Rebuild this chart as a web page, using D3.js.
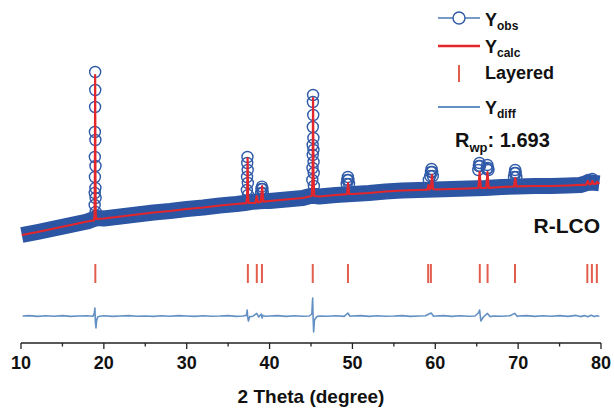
<!DOCTYPE html>
<html>
<head>
<meta charset="utf-8">
<script src="https://cdn.jsdelivr.net/npm/d3@7"></script>
<style>
  html, body { margin: 0; padding: 0; background: #fff; }
  svg { display: block; font-family: "Liberation Sans", Arial, sans-serif; font-weight: bold; }
</style>
</head>
<body>
<svg id="chart" width="614" height="412"></svg>
<script>
// ---------- DATA ----------
// Observed background band (centre of the dense Yobs band), 2θ / intensity
const bandX = [10.1, 12, 14, 16, 18, 18.8, 19.2, 20, 22, 24, 26, 28, 30, 32, 34, 36, 37.0, 37.7, 38.8, 39.4, 40, 42, 44, 44.9, 45.6, 46, 48, 50, 52, 54, 56, 58, 60, 62, 64, 66, 68, 70, 72, 74, 76, 77.5, 78.3, 79, 79.8];
const bandY = [1300, 1450, 1625, 1800, 1975, 2100, 2150, 2125, 2225, 2325, 2425, 2500, 2600, 2675, 2775, 2850, 2900, 2950, 2990, 3000, 3000, 3075, 3150, 3250, 3250, 3225, 3300, 3350, 3400, 3475, 3525, 3550, 3575, 3600, 3625, 3650, 3700, 3725, 3750, 3750, 3775, 3800, 3900, 3920, 3880];

// Observed points on the Bragg peaks (hollow circles)
const obsPeakX = [18.95, 18.96, 18.94, 18.92, 18.98, 18.91, 18.99, 18.92, 18.98, 18.90, 19.00, 18.89, 19.01,
                  37.33, 37.30, 37.36, 37.28, 37.38, 37.26, 37.40,
                  39.08, 39.02, 39.14, 38.98, 39.18,
                  45.25, 45.23, 45.27, 45.22, 45.29, 45.20, 45.30, 45.21, 45.31, 45.18, 45.33, 45.16, 45.35,
                  49.45, 49.38, 49.52, 49.31, 49.59,
                  59.55, 59.48, 59.62, 59.40, 59.70, 59.22,
                  65.33, 65.26, 65.40, 65.19,
                  66.28, 66.35, 66.42, 66.21,
                  69.64, 69.57, 69.71, 69.50, 69.78,
                  78.95, 78.45];
const obsPeakY = [9450, 8550, 7700, 6450, 6050, 5200, 4750, 4200, 3650, 3400, 3150, 2800, 2450,
                  5200, 4900, 4550, 4200, 3900, 3550, 3300,
                  3720, 3600, 3600, 3400, 3400,
                  8300, 7950, 7300, 6700, 6150, 5800, 5550, 5300, 4950, 4650, 4400, 4050, 3750,
                  4200, 4050, 4050, 3850, 3850,
                  4600, 4450, 4450, 4250, 4250, 4050,
                  4900, 4750, 4750, 4550,
                  4800, 4650, 4550, 4600,
                  4550, 4400, 4400, 4200, 4200,
                  4100, 4050];

// Calculated profile (Ycalc)
const calcX = [10.1, 12, 14, 16, 18, 18.80, 18.88, 18.92, 18.95, 18.98, 19.02, 19.10, 20, 22, 24, 26, 28, 30, 32, 34, 36,
               37.20, 37.29, 37.35, 37.41, 37.50, 38.30, 38.45, 38.60, 38.95, 39.10, 39.25, 40, 42, 44,
               45.10, 45.20, 45.25, 45.30, 45.40, 46, 48, 49.35, 49.48, 49.62, 50, 52, 54, 56, 58,
               59.05, 59.18, 59.32, 59.48, 59.60, 59.72, 60, 62, 64, 65.2, 65.35, 65.5, 66.15, 66.30, 66.45, 68,
               69.5, 69.65, 69.8, 72, 74, 76, 78.2, 78.4, 78.6, 78.8, 78.95, 79.1, 79.35, 79.5, 79.8];
const calcY = [1300, 1450, 1625, 1800, 1975, 2030, 2300, 4500, 9300, 4500, 2350, 2100, 2125, 2225, 2325, 2425, 2500, 2600, 2675, 2775, 2850,
               2890, 3150, 5150, 3150, 2900, 2910, 3250, 2930, 2960, 3750, 2970, 3000, 3075, 3150,
               3250, 4300, 8150, 4300, 3250, 3225, 3300, 3340, 3900, 3350, 3350, 3400, 3475, 3525, 3550,
               3565, 3800, 3580, 3650, 4300, 3600, 3575, 3600, 3625, 3650, 4450, 3650, 3650, 4450, 3660, 3700,
               3725, 4150, 3730, 3750, 3750, 3775, 3820, 4000, 3830, 3840, 4000, 3850, 3850, 3950, 3860];

// Layered-phase reflection positions (tick marks)
const hklPos = [18.97, 37.38, 38.46, 39.08, 45.21, 49.46, 59.14, 59.47, 65.37, 66.31, 69.62, 78.35, 78.90, 79.50];
const hklTop = -150, hklBottom = -1100;

// Difference curve (Yobs - Ycalc, offset)
const diffX = [10.2, 11, 12, 13, 14, 15, 16, 17, 18, 18.7, 18.85, 18.92, 18.98, 19.05, 19.12, 19.25, 19.5, 20, 21, 22, 23, 24, 25, 26, 27, 28, 29, 30, 31, 32, 33, 34, 35, 36, 36.8,
               37.2, 37.3, 37.36, 37.45, 37.6, 38.0, 38.45, 38.7, 39.0, 39.1, 39.2, 39.5, 40, 41, 42, 43, 44, 44.8,
               45.1, 45.2, 45.26, 45.32, 45.42, 45.7, 46, 47, 48, 49, 49.45, 49.7, 50, 51, 52, 53, 54, 55, 56, 57, 58, 58.8,
               59.5, 59.8, 60, 61, 62, 63, 64, 64.8, 65.2, 65.35, 65.5, 65.8, 66.3, 66.6, 67, 68, 69, 69.6, 69.9, 70, 71, 72, 73, 74, 75, 76, 77, 77.5, 78, 78.4, 78.8, 79.2, 79.5, 79.8];
const diffY = [-2750, -2730, -2770, -2740, -2760, -2730, -2770, -2750, -2740, -2760, -2600, -2350, -3050, -3350, -3000, -2800, -2760, -2740, -2770, -2750, -2730, -2760, -2750, -2770, -2740, -2760, -2730, -2750, -2770, -2740, -2760, -2750, -2730, -2770, -2750,
               -2720, -2450, -2800, -3000, -2780, -2760, -2620, -2800, -2650, -2850, -2720, -2760, -2750, -2730, -2770, -2740, -2760, -2750,
               -2650, -1850, -2900, -3550, -2950, -2780, -2750, -2760, -2740, -2770, -2600, -2760, -2750, -2730, -2770, -2740, -2760, -2750, -2730, -2770, -2750, -2740,
               -2600, -2760, -2750, -2730, -2770, -2740, -2760, -2750, -2600, -2450, -3000, -2800, -2620, -2780, -2750, -2760, -2740, -2620, -2770, -2750, -2730, -2770, -2740, -2760, -2730, -2770, -2720, -2780, -2730, -2790, -2710, -2780, -2740, -2760];

const xTicks = [10, 20, 30, 40, 50, 60, 70, 80];
const xMinorTicks = [15, 25, 35, 45, 55, 65, 75];

// ---------- DRAWING ----------
const svg = d3.select("#chart");
const x = d3.scaleLinear().domain([10, 80]).range([21, 601]);
const y = d3.scaleLinear().domain([-4000, 10000]).range([341, 61]);

const cBand = "#2c56a4", cCirc = "#2f5aa8", cCalc = "#e3262b", cTick = "#e35d4c", cDiff = "#6391c4";

const zip = (a, b) => a.map((v, i) => [v, b[i]]);
const line = d3.line().x(d => x(d[0])).y(d => y(d[1]));

// Yobs band
svg.append("path").attr("d", line(zip(bandX, bandY)))
  .attr("fill", "none").attr("stroke", cBand).attr("stroke-width", 16)
  .attr("stroke-linejoin", "round").attr("stroke-linecap", "butt");

// Yobs circles on peaks
svg.append("g").selectAll("circle").data(zip(obsPeakX, obsPeakY)).join("circle")
  .attr("cx", d => x(d[0])).attr("cy", d => y(d[1])).attr("r", 5.5)
  .attr("fill", "none").attr("stroke", cCirc).attr("stroke-width", 1.4);

// Ycalc
svg.append("path").attr("d", line(zip(calcX, calcY)))
  .attr("fill", "none").attr("stroke", cCalc).attr("stroke-width", 2.2).attr("stroke-linejoin", "round");

// Layered ticks
svg.append("g").selectAll("line").data(hklPos).join("line")
  .attr("x1", d => x(d)).attr("x2", d => x(d))
  .attr("y1", y(hklTop)).attr("y2", y(hklBottom))
  .attr("stroke", cTick).attr("stroke-width", 2);

// Ydiff
svg.append("path").attr("d", line(zip(diffX, diffY)))
  .attr("fill", "none").attr("stroke", cDiff).attr("stroke-width", 1.6).attr("stroke-linejoin", "round");

// X axis
const axisY = 343;
const ax = svg.append("g").attr("transform", `translate(0,${axisY})`);
ax.append("line").attr("x1", x(10)).attr("x2", x(80)).attr("stroke", "#222").attr("stroke-width", 1.3);
ax.selectAll("line.maj").data(xTicks).join("line").attr("class", "maj")
  .attr("x1", d => x(d)).attr("x2", d => x(d)).attr("y1", 0).attr("y2", 6)
  .attr("stroke", "#222").attr("stroke-width", 1.3);
ax.selectAll("line.min").data(xMinorTicks).join("line").attr("class", "min")
  .attr("x1", d => x(d)).attr("x2", d => x(d)).attr("y1", 0).attr("y2", 3.5)
  .attr("stroke", "#222").attr("stroke-width", 1.3);
ax.selectAll("text").data(xTicks).join("text")
  .attr("x", d => x(d)).attr("y", 26).attr("text-anchor", "middle")
  .attr("font-size", 18).attr("fill", "#111").text(d => d);

svg.append("text").attr("x", 311).attr("y", 403).attr("text-anchor", "middle")
  .attr("font-size", 19).attr("fill", "#111").text("2 Theta (degree)");

// Legend
const lg = svg.append("g");
lg.append("line").attr("x1", 438).attr("x2", 480).attr("y1", 18).attr("y2", 18).attr("stroke", "#4a78b5").attr("stroke-width", 1.5);
lg.append("circle").attr("cx", 459).attr("cy", 18).attr("r", 6).attr("fill", "#fff").attr("stroke", cCirc).attr("stroke-width", 1.4);
const t1 = lg.append("text").attr("x", 485).attr("y", 26).attr("font-size", 18).attr("fill", "#111");
t1.append("tspan").text("Y"); t1.append("tspan").attr("font-size", 12).attr("dy", 4).text("obs");

lg.append("line").attr("x1", 438).attr("x2", 480).attr("y1", 46).attr("y2", 46).attr("stroke", cCalc).attr("stroke-width", 2.5);
const t2 = lg.append("text").attr("x", 485).attr("y", 53).attr("font-size", 18).attr("fill", "#111");
t2.append("tspan").text("Y"); t2.append("tspan").attr("font-size", 12).attr("dy", 4).text("calc");

lg.append("line").attr("x1", 459).attr("x2", 459).attr("y1", 65).attr("y2", 82).attr("stroke", cTick).attr("stroke-width", 2);
lg.append("text").attr("x", 485).attr("y", 79).attr("font-size", 18).attr("fill", "#111").text("Layered");

lg.append("line").attr("x1", 438).attr("x2", 480).attr("y1", 107).attr("y2", 107).attr("stroke", cDiff).attr("stroke-width", 2);
const t4 = lg.append("text").attr("x", 485).attr("y", 114).attr("font-size", 18).attr("fill", "#111");
t4.append("tspan").text("Y"); t4.append("tspan").attr("font-size", 12).attr("dy", 4).text("diff");

const t5 = svg.append("text").attr("x", 455).attr("y", 147).attr("font-size", 20).attr("fill", "#111");
t5.append("tspan").text("R"); t5.append("tspan").attr("font-size", 13).attr("dy", 5).text("wp");
t5.append("tspan").attr("dy", -5).text(": 1.693");

svg.append("text").attr("x", 600).attr("y", 233).attr("text-anchor", "end")
  .attr("font-size", 21).attr("fill", "#111").text("R-LCO");
</script>
</body>
</html>
